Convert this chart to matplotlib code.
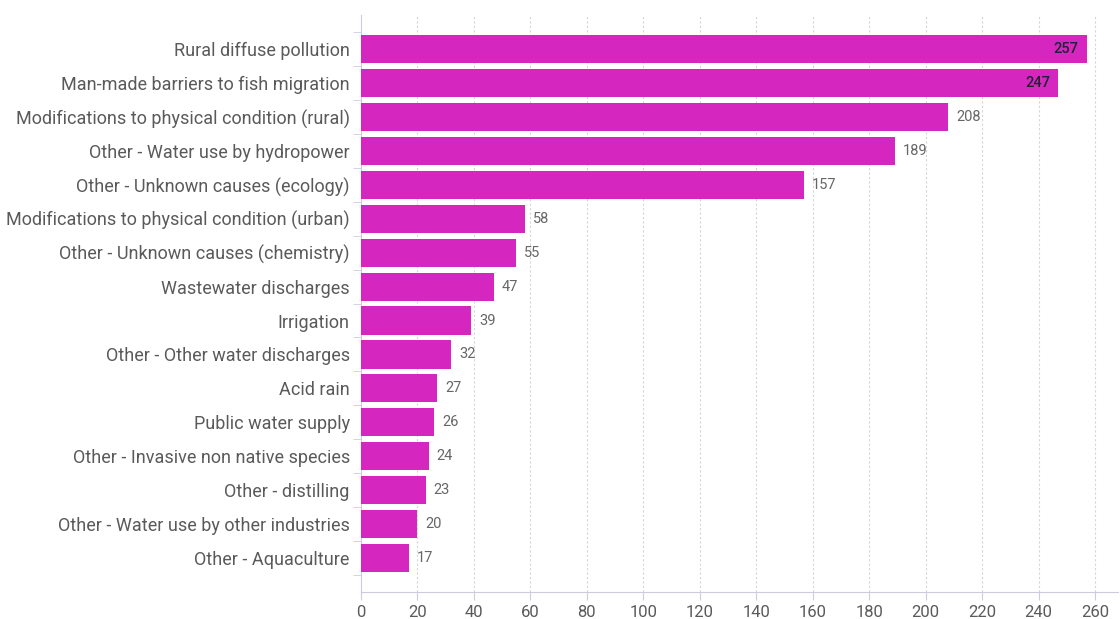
import matplotlib
matplotlib.use("Agg")
import matplotlib.pyplot as plt

plt.rcParams['font.family'] = ['Roboto', 'DejaVu Sans']

causes = [
    "Rural diffuse pollution",
    "Man-made barriers to fish migration",
    "Modifications to physical condition (rural)",
    "Other - Water use by hydropower",
    "Other - Unknown causes (ecology)",
    "Modifications to physical condition (urban)",
    "Other - Unknown causes (chemistry)",
    "Wastewater discharges",
    "Irrigation",
    "Other - Other water discharges",
    "Acid rain",
    "Public water supply",
    "Other - Invasive non native species",
    "Other - distilling",
    "Other - Water use by other industries",
    "Other - Aquaculture",
]
counts = [257, 247, 208, 189, 157, 58, 55, 47, 39, 32, 27, 26, 24, 23, 20, 17]
xticks = list(range(0, 261, 20))

bar_color = "#D626C0"
text_color = "#5A5A5A"
axis_color = "#CCCCDD"

fig = plt.figure(figsize=(11.2, 6.19), dpi=100)
ax = fig.add_axes([0.3223, 0.0436, 0.6757, 0.932])

pos = list(range(len(causes)))
ax.barh(pos, counts, height=0.83, color=bar_color, zorder=3)

for p, v in zip(pos, counts):
    if v > 240:
        ax.text(v - 3, p, str(v), ha="right", va="center", fontsize=10.5,
                color="#222233", fontweight="medium", zorder=4)
    else:
        ax.text(v + 2.8, p, str(v), ha="left", va="center", fontsize=10.5,
                color="#666666", zorder=4)

ax.set_ylim(16, -1)
ax.set_xlim(0, 268)
ax.set_yticks(pos)
ax.set_yticklabels(causes, fontsize=13, color=text_color)
ax.tick_params(axis="y", which="major", length=0, pad=8)
ax.set_yticks([p - 0.5 for p in pos] + [len(pos) - 0.5], minor=True)
ax.tick_params(axis="y", which="minor", length=6, color=axis_color)

ax.set_xticks(xticks)
ax.set_xticklabels([str(t) for t in xticks], fontsize=12, color=text_color)
ax.tick_params(axis="x", length=6, color=axis_color, pad=3)

ax.grid(axis="x", color="#D5D5D5", linestyle=(0, (2, 2)), linewidth=0.8, zorder=0)
for s in ["top", "right"]:
    ax.spines[s].set_visible(False)
ax.spines["left"].set_color(axis_color)
ax.spines["bottom"].set_color(axis_color)

fig.savefig("out.png", dpi=100)
